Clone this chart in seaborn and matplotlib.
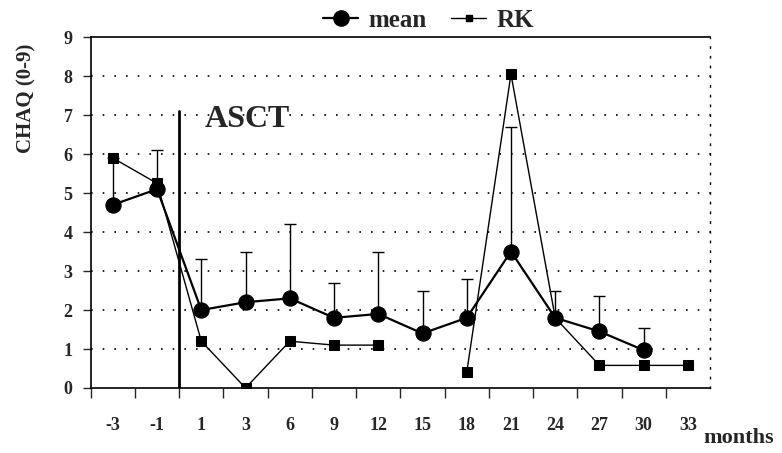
import numpy as np
import pandas as pd
import matplotlib
matplotlib.use('Agg')
import matplotlib.pyplot as plt
from matplotlib.lines import Line2D
import seaborn as sns

# --- dados ---
months = ['-3', '-1', '1', '3', '6', '9', '12', '15', '18', '21', '24', '27', '30', '33']
mean_vals = [4.7, 5.1, 2.0, 2.2, 2.3, 1.8, 1.9, 1.4, 1.8, 3.5, 1.8, 1.45, 0.97, np.nan]
mean_upper = [5.9, 6.1, 3.3, 3.5, 4.2, 2.7, 3.5, 2.5, 2.8, 6.7, 2.5, 2.35, 1.55, np.nan]
rk_vals = [5.9, 5.25, 1.2, 0.0, 1.2, 1.1, 1.1, np.nan, 0.4, 8.05, 1.8, 0.58, 0.58, 0.58]
rk_segment = [0, 0, 0, 0, 0, 0, 0, 1, 1, 1, 1, 1, 1, 1]

sns.set_style('white')
plt.rcParams['font.family'] = ['Liberation Serif', 'DejaVu Serif']
plt.rcParams['font.weight'] = 'bold'

pos = np.arange(len(months))
df = pd.DataFrame({'pos': pos, 'mean': mean_vals, 'upper': mean_upper,
                   'rk': rk_vals, 'seg': rk_segment})

fig = plt.figure(figsize=(7.82, 4.53), dpi=100)
ax = fig.add_axes([0.116, 0.1435, 0.792, 0.7745])

# grade pontilhada
for yv in range(1, 9):
    ax.axhline(yv, color='black', lw=1.2, ls=(0, (1, 6)), zorder=0)

# barras de erro (so para cima)
d_err = df.dropna(subset=['mean'])
err_up = d_err['upper'] - d_err['mean']
ax.errorbar(d_err['pos'], d_err['mean'], yerr=[np.zeros(len(d_err)), err_up],
            fmt='none', ecolor='black', elinewidth=1, capsize=4.5, capthick=1, zorder=2)

# serie RK (linha quebrada no mes 15)
d_rk = df.dropna(subset=['rk'])
sns.lineplot(data=d_rk, x='pos', y='rk', units='seg', estimator=None,
             color='black', lw=1, marker='s', markersize=6.5,
             markeredgecolor='black', ax=ax, zorder=3)

# serie media
sns.lineplot(data=d_err, x='pos', y='mean', color='black', lw=1.6,
             marker='o', markersize=11, markeredgecolor='black', ax=ax, zorder=4)

# linha do ASCT
ax.plot([1.5, 1.5], [0, 7.1], color='black', lw=2, zorder=3)
ax.text(2.08, 6.9, 'ASCT', fontsize=23, fontweight='bold', va='center', ha='left')

ax.set_xlim(-0.5, 13.5)
ax.set_ylim(0, 9)
ax.set_yticks(range(0, 10))
ax.set_yticklabels([str(v) for v in range(10)], fontsize=13, fontweight='bold')
ax.set_xticks(pos)
ax.set_xticklabels(months, fontsize=13, fontweight='bold')
ax.set_xticks(np.arange(-0.5, 13, 1), minor=True)
ax.tick_params(axis='x', which='major', length=0, pad=21)
ax.tick_params(axis='x', which='minor', length=7, width=1, direction='out', bottom=True)
ax.tick_params(axis='y', length=6, width=1, direction='out', left=True, pad=7)
ax.set_xlabel('')
ax.set_ylabel('CHAQ (0-9)', fontsize=15, fontweight='bold')
ax.yaxis.set_label_coords(-0.088, 0.826)

for side in ['left', 'bottom', 'top']:
    ax.spines[side].set_color('black')
    ax.spines[side].set_linewidth(1.2)
ax.spines['right'].set_color('black')
ax.spines['right'].set_linewidth(1)
ax.spines['right'].set_linestyle((0, (1, 6)))

fig.text(0.899, 0.022, 'months', fontsize=16, fontweight='bold', ha='left', va='baseline')

handles = [Line2D([], [], color='black', lw=1.6, marker='o', markersize=11),
           Line2D([], [], color='black', lw=1, marker='s', markersize=5)]
fig.legend(handles, ['mean', 'RK'], loc='center', bbox_to_anchor=(0.548, 0.955),
           ncol=2, frameon=False, prop={'size': 18, 'weight': 'bold'},
           handlelength=1.4, handletextpad=0.4, columnspacing=1.0)

fig.savefig('out.png', dpi=100)
